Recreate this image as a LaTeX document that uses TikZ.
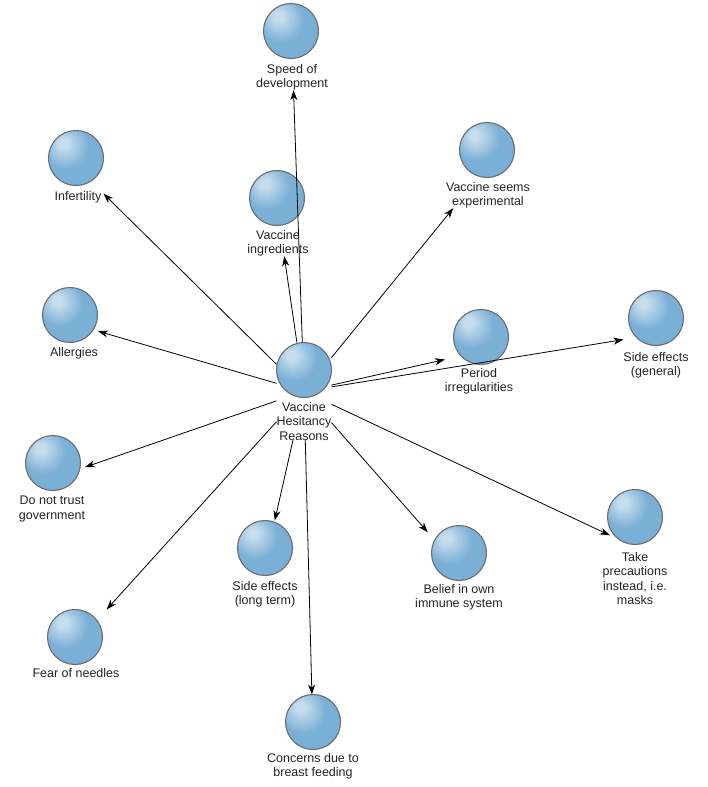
\documentclass[tikz,border=0pt]{standalone}
\usepackage{fontspec}
\setmainfont{Liberation Sans}
\usetikzlibrary{arrows.meta,fit}
\definecolor{sphHL}{RGB}{198,221,237}
\definecolor{sphBase}{RGB}{122,175,214}
\definecolor{sphEdge}{RGB}{94,152,200}
\definecolor{sphLine}{RGB}{105,110,115}
\definecolor{txt}{RGB}{35,35,35}
\pgfdeclareradialshading{sphereshade}{\pgfpoint{-12bp}{14bp}}{color(0bp)=(sphHL); color(4bp)=(sphHL); color(21bp)=(sphBase); color(46bp)=(sphBase); color(62bp)=(sphEdge); color(90bp)=(sphEdge)}
\begin{document}
\begin{tikzpicture}[x=1pt,y=-1pt,
 sphere/.style={circle, minimum size=55pt, inner sep=0pt, outer sep=0pt, shade, shading=sphereshade, draw=sphLine, line width=1.1pt},
 lbl/.style={anchor=north, align=center, inner sep=0pt, outer sep=0pt, text=txt, font=\fontsize{12.5}{14.5}\selectfont},
 grp/.style={rectangle, inner sep=0pt, outer sep=0pt},
 arr/.style={-{Stealth[length=10pt,width=7pt,inset=3pt]}, line width=0.8pt, black}]
\useasboundingbox (0,0) rectangle (708,787);
% hub
\node[sphere] (s0) at (304,370) {};
\node[lbl] (l0) at (304,402) {Vaccine\\Hesitancy\\Reasons};
% targets
\node[sphere] (s1) at (291,31) {};
\node[lbl] (l1) at (292,64) {Speed of\\development};
\node[sphere] (s2) at (76,158) {};
\node[lbl] (l2) at (78,191) {Infertility};
\node[sphere] (s3) at (277,198) {};
\node[lbl] (l3) at (278,230) {Vaccine\\ingredients};
\node[sphere] (s4) at (487,150) {};
\node[lbl] (l4) at (488,182) {Vaccine seems\\experimental};
\node[sphere] (s5) at (70,315) {};
\node[lbl] (l5) at (74,347) {Allergies};
\node[sphere] (s6) at (481,337) {};
\node[lbl] (l6) at (479,368) {Period\\irregularities};
\node[sphere] (s7) at (656,318) {};
\node[lbl] (l7) at (656,352) {Side effects\\(general)};
\node[sphere] (s8) at (53,463) {};
\node[lbl] (l8) at (52,496) {Do not trust\\government};
\node[sphere] (s9) at (265,548) {};
\node[lbl] (l9) at (265,581) {Side effects\\(long term)};
\node[sphere] (s10) at (459,553) {};
\node[lbl] (l10) at (459,584) {Belief in own\\immune system};
\node[sphere] (s11) at (635,517) {};
\node[lbl] (l11) at (635,552) {Take\\precautions\\instead, i.e.\\masks};
\node[sphere] (s12) at (75,637) {};
\node[lbl] (l12) at (76,668) {Fear of needles};
\node[sphere] (s13) at (313,722) {};
\node[lbl] (l13) at (313,753) {Concerns due to\\breast feeding};
% groups
\node[grp, fit=(s0)(l0)] (g0) {};
\foreach \i in {1,...,13}{
  \node[grp, fit=(s\i)(l\i)] (g\i) {};
}
% connectors
\foreach \i in {1,...,9,12,13}{
  \draw[arr] (g0) -- (g\i);
}
\draw[arr, shorten >=-9pt] (g0) -- (g10);
\draw[arr, shorten >=-8pt] (g0) -- (g11);
\end{tikzpicture}
\end{document}
